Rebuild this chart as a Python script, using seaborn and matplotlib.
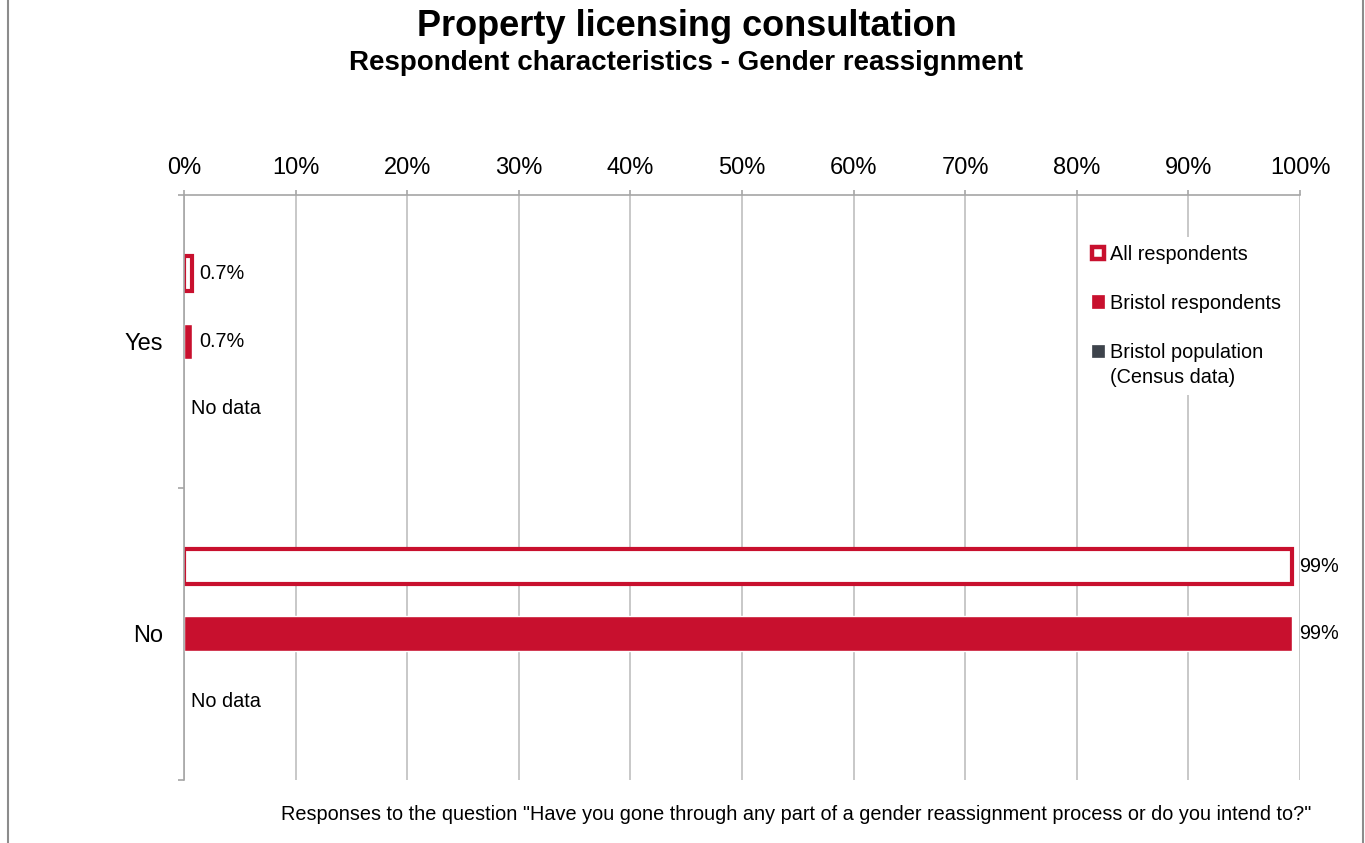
import numpy as np
import pandas as pd
import matplotlib
matplotlib.use("Agg")
import matplotlib.pyplot as plt
from matplotlib.patches import Patch, Rectangle
from matplotlib.lines import Line2D
from matplotlib.legend_handler import HandlerPatch
from matplotlib.ticker import FixedLocator, PercentFormatter
import seaborn as sns

# ---- data -------------------------------------------------------------
responses = ["Yes", "No"]
groups = ["All respondents", "Bristol respondents", "Bristol population\n(Census data)"]
all_respondents = [0.7, 99.3]
bristol_respondents = [0.7, 99.3]
bristol_population = [np.nan, np.nan]   # no census figures available
x_ticks = [0, 10, 20, 30, 40, 50, 60, 70, 80, 90, 100]

RED = "#C8102E"
DARK = "#3D434B"
GRID = "#BFBFBF"
AXIS = "#A6A6A6"

df = pd.DataFrame({
    "response": responses * 3,
    "group": [g for g in groups for _ in responses],
    "value": all_respondents + bristol_respondents + bristol_population,
})

sns.set_style("white")
plt.rcParams["font.family"] = ["Liberation Sans", "DejaVu Sans"]
plt.rcParams["text.color"] = "black"
plt.rcParams["xtick.color"] = AXIS
plt.rcParams["ytick.color"] = AXIS
plt.rcParams["xtick.labelcolor"] = "black"
plt.rcParams["ytick.labelcolor"] = "black"

fig = plt.figure(figsize=(13.65, 8.43), dpi=100)
ax = fig.add_axes([0.1348, 0.0747, 0.9524 - 0.1348, 0.7687 - 0.0747])

sns.barplot(
    data=df, y="response", x="value", hue="group",
    order=responses, hue_order=groups,
    palette=[RED, RED, DARK], orient="h",
    width=0.693, gap=0.48, dodge=True,
    legend=False, ax=ax, saturation=1, err_kws={"linewidth": 0},
)

# first series: outlined bars
for bar in ax.containers[0]:
    bar.set_facecolor("white")
    bar.set_edgecolor(RED)
    bar.set_linewidth(3)


def pct_label(v):
    return f"{v:.1f}%" if v < 1 else f"{v:.0f}%"


for cont, vals in zip(ax.containers[:2], [all_respondents, bristol_respondents]):
    ax.bar_label(cont, labels=[pct_label(v) for v in vals], padding=5,
                 fontsize=14.3, color="black")

# "No data" markers for the census series
c0 = [b.get_y() + b.get_height() / 2 for b in ax.containers[0]]
c1 = [b.get_y() + b.get_height() / 2 for b in ax.containers[1]]
for a, b in zip(c0, c1):
    ax.text(0.6, b + (b - a), "No data", va="center", ha="left", fontsize=14.3)

# axes styling
ax.set_xlim(0, 100)
ax.set_ylim(len(responses) - 0.5, -0.5)
ax.xaxis.tick_top()
ax.xaxis.set_major_locator(FixedLocator(x_ticks))
ax.xaxis.set_major_formatter(PercentFormatter(decimals=0))
ax.tick_params(axis="x", length=3.5, width=1.2, pad=8, labelsize=17)
ax.tick_params(axis="y", which="major", length=0, pad=15, labelsize=17)
ax.yaxis.set_minor_locator(FixedLocator(np.arange(-0.5, len(responses), 1.0)))
ax.tick_params(axis="y", which="minor", length=4, width=1.2, left=True)
ax.grid(axis="x", color=GRID, linewidth=1.2)
ax.set_axisbelow(True)
ax.set_xlabel("")
ax.set_ylabel("")
for s in ["right", "bottom"]:
    ax.spines[s].set_visible(False)
for s in ["left", "top"]:
    ax.spines[s].set_color(AXIS)
    ax.spines[s].set_linewidth(1.2)


# legend: square keys aligned with the first line of each label
def make_key(shift):
    def key(legend, orig_handle, xdescent, ydescent, width, height, fontsize):
        side = min(width, height)
        return Rectangle((-xdescent, -ydescent + shift * fontsize), side, side)
    return key


handles = [
    Patch(facecolor="white", edgecolor=RED, linewidth=3.2),
    Patch(facecolor=RED, edgecolor=RED, linewidth=0.5),
    Patch(facecolor=DARK, edgecolor=DARK, linewidth=0.5),
]
leg = ax.legend(handles, groups, loc="upper right", bbox_to_anchor=(0.999, 0.945),
                frameon=True, facecolor="white", edgecolor="none", framealpha=1,
                fontsize=14.3, handlelength=0.62, handleheight=0.62, handletextpad=0.3,
                labelspacing=1.5, borderpad=0.4,
                handler_map={handles[2]: HandlerPatch(patch_func=make_key(0.72))})
for t in leg.get_texts():
    t.set_linespacing(1.4)

# titles and footnote
fig.text(0.503, 1 - 27 / 843, "Property licensing consultation", ha="center", va="center",
         fontsize=26, fontweight="bold")
fig.text(0.5026, 1 - 63 / 843, "Respondent characteristics - Gender reassignment", ha="center",
         va="center", fontsize=20, fontweight="bold")
fig.text(1311 / 1365, 1 - 815 / 843,
         "Responses to the question \"Have you gone through any part of a gender "
         "reassignment process or do you intend to?\"", ha="right", va="center", fontsize=14.3)

# outer frame edges
for xf in (8 / 1365, 1363 / 1365):
    fig.add_artist(Line2D([xf, xf], [0, 1], transform=fig.transFigure,
                          color="#8C8C8C", linewidth=1.5))

fig.savefig("out.png", dpi=100)
